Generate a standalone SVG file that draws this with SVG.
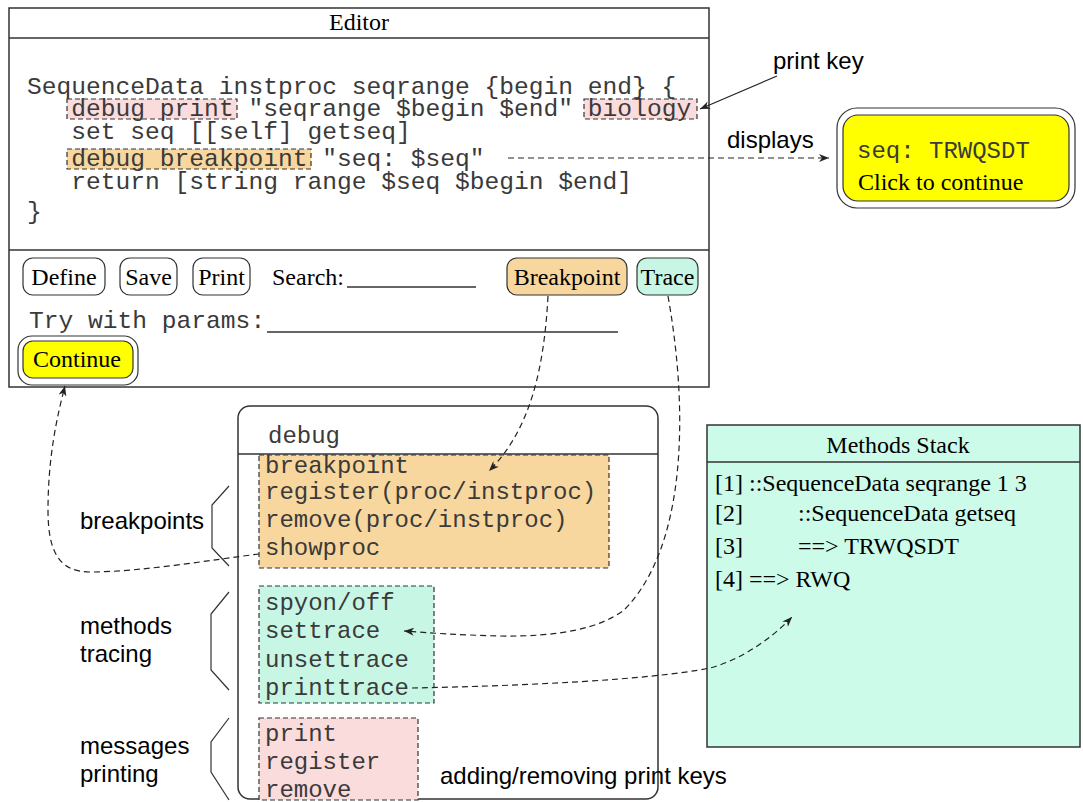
<svg xmlns="http://www.w3.org/2000/svg" width="1083" height="802" viewBox="0 0 1083 802">
<defs>
<style>
.mono{font-family:"Liberation Mono","Courier New",monospace;font-size:24.6px;fill:#3a3a3a}
.mono2{font-family:"Liberation Mono","Courier New",monospace;font-size:24px;fill:#3a3a3a}
.serif{font-family:"Liberation Serif","Times New Roman",serif;font-size:24px;fill:#000}
.sans{font-family:"Liberation Sans",Arial,sans-serif;font-size:24px;fill:#000}
.frame{fill:#fff;stroke:#333;stroke-width:1.5}
.rule{stroke:#333;stroke-width:1.5}
.dbox{stroke:#333;stroke-width:1.2;stroke-dasharray:5 3}
.conn{fill:none;stroke:#222;stroke-width:1.2;stroke-dasharray:6 4}
.btn{stroke:#333;stroke-width:1.2}
.brace{fill:none;stroke:#333;stroke-width:1.2}
.pink{fill:#fbdcdc}
.orange{fill:#f8d79f}
.cyan{fill:#c8f6e4}
.yellow{fill:#ffff00}
</style>
<marker id="ah" viewBox="0 0 10 8" refX="10" refY="4" markerWidth="10" markerHeight="8" markerUnits="userSpaceOnUse" orient="auto"><path d="M0,0 L10,4 L0,8 L3,4 z" fill="#222"/></marker>
</defs>
<rect width="1083" height="802" fill="#fff"/>

<g id="editor">
<rect x="9" y="8" width="700" height="379" class="frame"/>
<line x1="9" y1="38" x2="709" y2="38" class="rule"/>
<line x1="9" y1="250" x2="709" y2="250" class="rule"/>
<text x="359" y="30" class="serif" text-anchor="middle">Editor</text>
<rect x="67" y="99" width="170" height="20" class="pink dbox"/>
<rect x="584" y="99" width="113" height="20" class="pink dbox"/>
<rect x="67" y="149" width="244" height="20" class="orange dbox"/>
<text x="27" y="94" class="mono">SequenceData instproc seqrange {begin end} {</text>
<text x="71.3" y="116" class="mono">debug print "seqrange $begin $end" biology</text>
<text x="71.3" y="139" class="mono">set seq [[self] getseq]</text>
<text x="71.3" y="166" class="mono">debug breakpoint "seq: $seq"</text>
<text x="71.3" y="189" class="mono">return [string range $seq $begin $end]</text>
<text x="27" y="219" class="mono">}</text>
</g>

<g id="btn-define"><rect x="23" y="258" width="82" height="37" rx="10" fill="#fff" class="btn"/><text x="64" y="285" class="serif" text-anchor="middle">Define</text></g>
<g id="btn-save"><rect x="120" y="258" width="57" height="37" rx="10" fill="#fff" class="btn"/><text x="148.5" y="285" class="serif" text-anchor="middle">Save</text></g>
<g id="btn-print"><rect x="193" y="258" width="57" height="37" rx="10" fill="#fff" class="btn"/><text x="221.5" y="285" class="serif" text-anchor="middle">Print</text></g>
<g id="search"><text x="272" y="285" class="serif">Search:</text><line x1="347" y1="287" x2="476" y2="287" class="rule"/></g>
<g id="btn-breakpoint"><rect x="507" y="258" width="120" height="37" rx="10" class="orange btn"/><text x="567" y="285" class="serif" text-anchor="middle">Breakpoint</text></g>
<g id="btn-trace"><rect x="637" y="258" width="61" height="37" rx="10" class="cyan btn"/><text x="667.5" y="285" class="serif" text-anchor="middle">Trace</text></g>
<g id="params"><text x="29" y="328" class="mono">Try with params:</text><line x1="267" y1="332" x2="618" y2="332" class="rule"/></g>
<g id="btn-continue"><rect x="18" y="336" width="120" height="49" rx="14" fill="#fff" class="btn"/><rect x="23" y="341" width="110" height="37" rx="10" class="yellow btn"/><text x="77" y="367" class="serif" text-anchor="middle">Continue</text></g>

<g id="print-key"><text x="773" y="69" class="sans">print key</text></g>
<g id="displays"><text x="727" y="148" class="sans">displays</text></g>

<g id="popup">
<rect x="837" y="108" width="238" height="100" rx="20" fill="#fff" class="btn"/>
<rect x="843" y="115" width="226" height="86" rx="15" class="yellow btn"/>
<text x="857" y="158" class="mono2">seq: TRWQSDT</text>
<text x="858" y="190" class="serif">Click to continue</text>
</g>

<g id="debug">
<rect x="238" y="406" width="420" height="393" rx="12" class="frame"/>
<line x1="238" y1="454" x2="658" y2="454" class="rule"/>
<text x="268" y="443" class="mono2">debug</text>
<rect x="259" y="455" width="350" height="113" class="orange dbox"/>
<text x="265" y="473" class="mono2">breakpoint</text>
<text x="265" y="499" class="mono2">register(proc/instproc)</text>
<text x="265" y="527" class="mono2">remove(proc/instproc)</text>
<text x="265" y="555" class="mono2">showproc</text>
<rect x="259" y="586" width="175" height="117" class="cyan dbox"/>
<text x="265" y="610" class="mono2">spyon/off</text>
<text x="265" y="638" class="mono2">settrace</text>
<text x="265" y="667" class="mono2">unsettrace</text>
<text x="265" y="695" class="mono2">printtrace</text>
<rect x="259" y="718" width="159" height="82" class="pink dbox"/>
<text x="265" y="741" class="mono2">print</text>
<text x="265" y="769" class="mono2">register</text>
<text x="265" y="797" class="mono2">remove</text>
</g>

<g id="group-breakpoints"><polyline points="229,486 212,505 212,548 229,566" class="brace"/><text x="80" y="529" class="sans">breakpoints</text></g>
<g id="group-tracing"><polyline points="229,592 211,614 211,670 229,690" class="brace"/><text x="80" y="634" class="sans">methods</text><text x="80" y="662" class="sans">tracing</text></g>
<g id="group-printing"><polyline points="229,718 211,742 211,772 229,800" class="brace"/><text x="80" y="754" class="sans">messages</text><text x="80" y="782" class="sans">printing</text></g>
<g id="print-keys-label"><text x="440" y="784" class="sans">adding/removing print keys</text></g>

<g id="methods-stack">
<rect x="707" y="425" width="373" height="322" fill="#cdfbe9" stroke="#333" stroke-width="1.5"/>
<line x1="707" y1="462" x2="1080" y2="462" class="rule"/>
<text x="898" y="453" class="serif" text-anchor="middle">Methods Stack</text>
<text x="715" y="491" class="serif">[1] ::SequenceData seqrange 1 3</text>
<text x="715" y="521" class="serif">[2]</text><text x="798" y="521" class="serif">::SequenceData getseq</text>
<text x="715" y="554" class="serif">[3]</text><text x="798" y="554" class="serif">==&gt; TRWQSDT</text>
<text x="715" y="587" class="serif">[4] ==&gt; RWQ</text>
</g>

<g id="connectors">
<line x1="777" y1="76" x2="700" y2="109" stroke="#222" stroke-width="1.2" marker-end="url(#ah)"/>
<path d="M508,158 L829,158" class="conn" marker-end="url(#ah)"/>
<path d="M548,296 C544,370 530,430 489,471" class="conn" marker-end="url(#ah)"/>
<path d="M668,296 C690,420 684,550 624,610 C600,628 560,637 500,636 C460,635 430,633 404,631" class="conn" marker-end="url(#ah)"/>
<path d="M259,554 C210,560 140,572 90,572 C58,572 48,550 48,510 C48,460 56,420 65,386" class="conn" marker-end="url(#ah)"/>
<path d="M412,688 C520,686 650,680 710,668 C740,660 770,640 792,617" class="conn" marker-end="url(#ah)"/>
</g>
</svg>
